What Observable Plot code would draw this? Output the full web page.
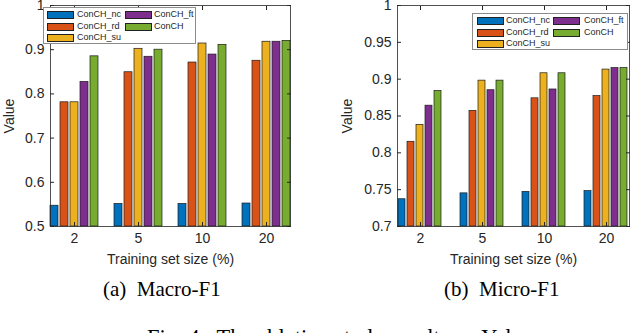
<!DOCTYPE html>
<html><head><meta charset="utf-8">
<script src="https://cdn.jsdelivr.net/npm/d3@7"></script>
<script src="https://cdn.jsdelivr.net/npm/@observablehq/plot@0.6"></script>
<style>
body{margin:0;background:#fff;}
#fig{position:relative;width:640px;height:333px;overflow:hidden;font-family:"Liberation Sans",Arial,sans-serif;}
.panel{position:absolute;top:0;width:320px;height:268px;}
.legend{position:absolute;border:1px solid #8c8c8c;background:#fff;box-sizing:border-box;}
.item{position:absolute;font-size:9px;color:#262626;line-height:1;white-space:nowrap;}
.sw{position:absolute;height:8px;border:1px solid #222;box-sizing:border-box;}
.cap{position:absolute;font-family:"Liberation Serif","Times New Roman",serif;font-size:21px;line-height:1;white-space:pre;color:#000;}
</style></head><body>
<div id="fig">
  <div class="panel" id="pa" style="left:0"></div>
  <div class="panel" id="pb" style="left:320px"></div>
  <div class="cap" style="left:103px;top:279px;">(a)  Macro-F1</div>
  <div class="cap" style="left:444px;top:279px;">(b)  Micro-F1</div>
  <div class="cap" style="left:147px;top:327px;font-size:22.5px;">Fig. 4:  The ablation study results on Yelp.</div>
</div>
<script>
const groups = ["2", "5", "10", "20"];
const series = ["ConCH_nc", "ConCH_rd", "ConCH_su", "ConCH_ft", "ConCH"];
const colors = ["#0072BD", "#D95319", "#EDB120", "#7E2F8E", "#77AC30"];

// Macro-F1 values per series (groups 2, 5, 10, 20)
const macroNc   = [0.547, 0.551, 0.551, 0.552];
const macroRd   = [0.781, 0.849, 0.871, 0.875];
const macroSu   = [0.781, 0.902, 0.914, 0.918];
const macroFt   = [0.827, 0.884, 0.889, 0.918];
const macroConCH = [0.885, 0.900, 0.911, 0.920];

// Micro-F1 values per series (groups 2, 5, 10, 20)
const microNc   = [0.737, 0.745, 0.747, 0.748];
const microRd   = [0.815, 0.857, 0.874, 0.877];
const microSu   = [0.838, 0.898, 0.908, 0.913];
const microFt   = [0.864, 0.885, 0.886, 0.915];
const microConCH = [0.884, 0.898, 0.908, 0.915];

const macroTicks = [0.5, 0.6, 0.7, 0.8, 0.9, 1];
const microTicks = [0.7, 0.75, 0.8, 0.85, 0.9, 0.95, 1];

function panel(values, yDomain, yTicks, o) {
  const data = [];
  groups.forEach((g, i) => series.forEach((s, j) => data.push({group: g, series: s, value: values[j][i]})));
  return Plot.plot({
    width: 320, height: 268,
    marginLeft: o.ml, marginRight: o.mr, marginTop: 5, marginBottom: 42,
    style: {fontFamily: "'Liberation Sans', Arial, sans-serif", fontSize: "14px", color: "#262626", background: "transparent", overflow: "visible"},
    fx: {domain: groups, paddingInner: 0.255, paddingOuter: 0.1275},
    x: {domain: series, paddingInner: 0.2, paddingOuter: 0, axis: null},
    y: {domain: yDomain},
    color: {domain: series, range: colors},
    marks: [
      Plot.barY(data, {fx: "group", x: "series", y1: yDomain[0], y2: "value", fill: "series", stroke: "#1a1a1a", strokeWidth: 0.7}),
      Plot.frame({facet: "super", stroke: "#262626", strokeWidth: 0.8}),
      Plot.axisY({anchor: "left", ticks: yTicks, tickSize: -4, tickPadding: o.tp, tickFormat: d => String(d), label: "Value", labelAnchor: "center", labelArrow: "none", labelOffset: o.lo, fontSize: 14}),
      Plot.axisY({anchor: "right", ticks: yTicks, tickSize: -4, tickFormat: () => "", label: null}),
      Plot.axisFx({anchor: "bottom", tickSize: 0, tickPadding: 7, label: "Training set size (%)", labelAnchor: "center", labelOffset: 37, fontSize: 14}),
      Plot.axisFx({anchor: "bottom", tickSize: -4, tickFormat: () => "", label: null}),
      Plot.axisFx({anchor: "top", tickSize: -4, tickFormat: () => "", label: null})
    ]
  });
}

function legend(container, box) {
  const lg = document.createElement("div");
  lg.className = "legend";
  Object.assign(lg.style, {left: box.left + "px", top: box.top + "px", width: box.w + "px", height: box.h + "px"});
  const rows = [7, 19, 30];
  series.forEach((s, i) => {
    const col = i < 3 ? 0 : 1;
    const row = i < 3 ? i : i - 3;
    const sw = document.createElement("div");
    sw.className = "sw";
    Object.assign(sw.style, {left: box.swx[col] + "px", top: (rows[row] - 4) + "px", width: box.sww + "px", background: colors[i]});
    const t = document.createElement("div");
    t.className = "item";
    t.textContent = s;
    Object.assign(t.style, {left: box.tx[col] + "px", top: (rows[row] - 5) + "px"});
    lg.appendChild(sw);
    lg.appendChild(t);
  });
  container.appendChild(lg);
}

const pa = document.getElementById("pa");
const pb = document.getElementById("pb");
pa.appendChild(panel([macroNc, macroRd, macroSu, macroFt, macroConCH], [0.5, 1], macroTicks, {ml: 41, mr: 22, tp: 10, lo: 46}));
pb.appendChild(panel([microNc, microRd, microSu, microFt, microConCH], [0.7, 1], microTicks, {ml: 68, mr: 2, tp: 10, lo: 55}));
legend(pa, {left: 43, top: 7, w: 153, h: 37, swx: [3, 81], sww: 27, tx: [33, 110]});
legend(pb, {left: 152, top: 13, w: 156, h: 37, swx: [4, 80], sww: 27, tx: [33, 111]});
</script>
</body></html>
